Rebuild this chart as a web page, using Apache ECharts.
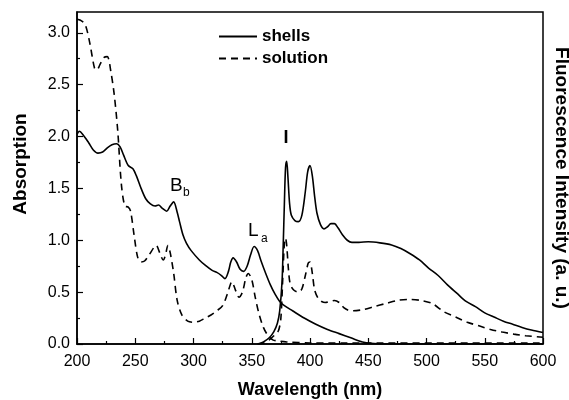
<!DOCTYPE html>
<html>
<head>
<meta charset="utf-8">
<script src="https://cdn.jsdelivr.net/npm/echarts@6/dist/echarts.min.js"></script>
<style>
  html, body { margin: 0; padding: 0; background: #fff; }
  #chart { width: 569px; height: 400px; }
</style>
</head>
<body>
<div id="chart"></div>
<script>
// absorption, shells (solid)
const shellsAbsWl = [200, 202, 205, 210, 214, 218, 222, 226, 230, 234, 237, 240, 244, 248, 251, 255, 259, 263, 267, 270, 273, 277, 280, 283, 286, 288, 291, 294, 298, 305, 310, 316, 320, 324, 327, 330, 332, 334, 337, 340, 343, 346, 349, 352, 355, 358, 362, 366, 370, 374, 378, 385, 395, 405, 415, 425, 435, 445, 455, 470, 500, 600]
const shellsAbs = [2.02, 2.05, 2.02, 1.94, 1.87, 1.84, 1.85, 1.89, 1.92, 1.93, 1.90, 1.82, 1.72, 1.69, 1.62, 1.50, 1.40, 1.35, 1.33, 1.34, 1.31, 1.28, 1.33, 1.37, 1.27, 1.18, 1.05, 0.97, 0.90, 0.81, 0.76, 0.71, 0.69, 0.66, 0.63, 0.70, 0.79, 0.83, 0.79, 0.72, 0.70, 0.75, 0.86, 0.94, 0.90, 0.80, 0.68, 0.57, 0.48, 0.41, 0.37, 0.32, 0.25, 0.19, 0.14, 0.10, 0.06, 0.02, 0.005, 0, 0, 0]

// absorption, solution (dashed)
const solAbsWl = [200, 203, 207, 211, 215, 217, 220, 223, 226, 229, 232, 235, 238, 241, 244, 246, 249, 252, 255, 258, 262, 266, 268, 271, 274, 276, 278, 280, 283, 286, 290, 295, 300, 305, 310, 315, 320, 325, 329, 333, 336, 339, 342, 345, 347, 350, 353, 356, 360, 364, 368, 372, 380, 400, 600]
const solAbs = [3.13, 3.12, 3.08, 2.90, 2.66, 2.64, 2.70, 2.76, 2.77, 2.63, 2.40, 2.05, 1.55, 1.33, 1.32, 1.28, 1.05, 0.84, 0.79, 0.80, 0.86, 0.93, 0.95, 0.88, 0.81, 0.86, 0.95, 0.88, 0.68, 0.42, 0.28, 0.22, 0.21, 0.22, 0.25, 0.28, 0.32, 0.37, 0.48, 0.60, 0.52, 0.45, 0.50, 0.64, 0.68, 0.62, 0.45, 0.30, 0.16, 0.08, 0.04, 0.03, 0.02, 0.01, 0.01]

// fluorescence, shells (solid)
const shellsFlWl = [355, 360, 365, 369, 372, 374, 376, 377, 378, 379, 380, 381, 382.5, 384, 387, 390, 393, 396, 398, 400, 402, 404, 406, 409, 412, 415, 418, 421, 424, 428, 432, 436, 442, 450, 460, 470, 478, 486, 494, 502, 510, 518, 526, 534, 542, 550, 558, 566, 574, 582, 590, 600]
const shellsFl = [0, 0.02, 0.06, 0.12, 0.20, 0.32, 0.60, 0.95, 1.35, 1.70, 1.76, 1.62, 1.35, 1.24, 1.19, 1.18, 1.24, 1.47, 1.66, 1.72, 1.62, 1.42, 1.26, 1.15, 1.11, 1.13, 1.16, 1.16, 1.12, 1.05, 1.00, 0.98, 0.98, 0.985, 0.975, 0.955, 0.92, 0.87, 0.81, 0.73, 0.66, 0.57, 0.49, 0.41, 0.36, 0.30, 0.26, 0.22, 0.19, 0.16, 0.135, 0.11]

// fluorescence, solution (dashed)
const solFlWl = [355, 360, 365, 370, 373, 375, 376.5, 378, 379, 380, 381.5, 383, 386, 390, 393, 396, 398.5, 400, 402, 404, 407, 410, 413, 417, 421, 425, 429, 433, 437, 445, 455, 465, 475, 485, 495, 505, 515, 525, 535, 545, 555, 565, 575, 585, 600]
const solFl = [0, 0.01, 0.04, 0.09, 0.13, 0.25, 0.60, 0.97, 1.02, 0.95, 0.72, 0.58, 0.52, 0.50, 0.53, 0.66, 0.78, 0.79, 0.68, 0.52, 0.44, 0.41, 0.40, 0.41, 0.42, 0.40, 0.35, 0.325, 0.32, 0.33, 0.36, 0.39, 0.42, 0.43, 0.42, 0.39, 0.31, 0.26, 0.21, 0.175, 0.14, 0.115, 0.095, 0.08, 0.065]

const yTicks = [0, 0.5, 1.0, 1.5, 2.0, 2.5, 3.0]
const yMinorTicks = [0.25, 0.75, 1.25, 1.75, 2.25, 2.75]

// peak labels: [main, subscript, wavelength, value]
const peakLabels = [
  ['B', 'b', 279.8, 1.62],
  ['L', 'a', 346.8, 1.18]
]
const bandLabel = ['I', 379.8, 2.07]

const font = 'Liberation Sans, Arial, sans-serif'
const zip = (xs, ys) => xs.map((x, i) => [x, ys[i]])

const chart = echarts.init(document.getElementById('chart'))

function lineSeries(name, data, dashed, yAxisIndex) {
  return {
    name, type: 'line', data, yAxisIndex,
    smooth: 0.3, symbol: 'none', silent: true,
    lineStyle: { color: '#000', width: 1.6, type: dashed ? [7, 5] : 'solid' },
    itemStyle: { color: '#000' }
  }
}

chart.setOption({
  animation: false,
  backgroundColor: '#fff',
  grid: {
    left: 77, right: 26, top: 12, bottom: 56,
    outerBoundsMode: 'none',
    show: true, borderColor: '#000', borderWidth: 1.5
  },
  legend: {
    data: ['shells', 'solution'],
    orient: 'vertical', left: 213, top: 23,
    itemWidth: 38, itemHeight: 14, itemGap: 5,
    itemStyle: { opacity: 0 },
    textStyle: { fontFamily: font, fontSize: 17, fontWeight: 'bold', color: '#000' }
  },
  xAxis: {
    type: 'value', min: 200, max: 600, interval: 50,
    name: 'Wavelength (nm)', nameLocation: 'middle', nameGap: 37,
    nameTextStyle: { fontFamily: font, fontSize: 18, fontWeight: 'bold', color: '#000' },
    axisLine: { lineStyle: { color: '#000', width: 1.5 } },
    axisTick: { inside: true, length: 6, lineStyle: { color: '#000', width: 1.2 } },
    minorTick: { show: true, splitNumber: 2, length: 3, lineStyle: { color: '#000', width: 1.2 } },
    splitLine: { show: false },
    axisLabel: { fontFamily: font, fontSize: 16, color: '#000', margin: 10 }
  },
  yAxis: [{
    type: 'value', min: 0, max: 3.2, position: 'left',
    name: 'Absorption', nameLocation: 'middle', nameGap: 47,
    nameTextStyle: { fontFamily: font, fontSize: 19, fontWeight: 'bold', color: '#000', padding: [0, 0, 0, 28] },
    axisLine: { show: true, lineStyle: { color: '#000', width: 1.5 } },
    axisTick: { inside: true, length: 6, customValues: yTicks, lineStyle: { color: '#000', width: 1.2 } },
    splitLine: { show: false },
    axisLabel: { fontFamily: font, fontSize: 16, color: '#000', margin: 7, customValues: yTicks, formatter: v => v.toFixed(1) }
  }, {
    type: 'value', min: 0, max: 3.2, position: 'left',
    axisLine: { show: false },
    axisTick: { inside: true, length: 3, customValues: yMinorTicks, lineStyle: { color: '#000', width: 1.2 } },
    axisLabel: { show: false },
    splitLine: { show: false }
  }, {
    type: 'value', min: 0, max: 3.2, position: 'right',
    name: 'Fluorescence Intensity (a. u.)', nameLocation: 'middle', nameGap: 9, nameRotate: -90,
    nameTextStyle: { fontFamily: font, fontSize: 19, fontWeight: 'bold', color: '#000' },
    axisLine: { show: false }, axisTick: { show: false }, axisLabel: { show: false },
    splitLine: { show: false }
  }],
  series: [
    lineSeries('shells', zip(shellsAbsWl, shellsAbs), false, 0),
    lineSeries('solution', zip(solAbsWl, solAbs), true, 0),
    lineSeries('shells fluorescence', zip(shellsFlWl, shellsFl), false, 2),
    lineSeries('solution fluorescence', zip(solFlWl, solFl), true, 2)
  ]
})

// text labels placed in data coordinates
const elements = []
peakLabels.forEach(([main, sub, x, y]) => {
  const [px, py] = chart.convertToPixel({ xAxisIndex: 0, yAxisIndex: 0 }, [x, y])
  elements.push({ type: 'text', left: px, top: py,
    style: { text: main, font: '19px ' + font, fill: '#000' } })
  elements.push({ type: 'text', left: px + 13, top: py + 11,
    style: { text: sub, font: '12px ' + font, fill: '#000' } })
})
const [ix, iy] = chart.convertToPixel({ xAxisIndex: 0, yAxisIndex: 0 }, [bandLabel[1], bandLabel[2]])
elements.push({ type: 'text', left: ix - 3, top: iy,
  style: { text: bandLabel[0], font: 'bold 18px ' + font, fill: '#000' } })
chart.setOption({ graphic: elements })
</script>
</body>
</html>
